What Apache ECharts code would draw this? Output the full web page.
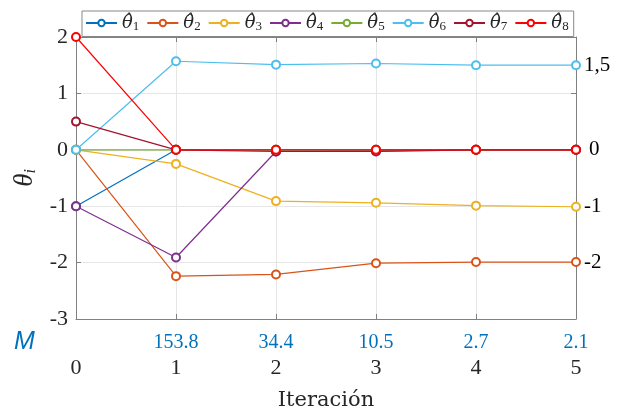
<!DOCTYPE html>
<html><head><meta charset="utf-8">
<script src="https://cdn.jsdelivr.net/npm/echarts@6/dist/echarts.min.js"></script>
<style>html,body{margin:0;padding:0;background:#fff}#c{width:622px;height:417px}</style>
</head><body><div id="c"></div>
<script>
var iterations = [0, 1, 2, 3, 4, 5];
var mLabels = ['', '153.8', '34.4', '10.5', '2.7', '2.1'];
var theta1 = [-1, 0, 0, 0, 0, 0];
var theta2 = [0, -2.24, -2.21, -2.01, -1.99, -1.99];
var theta3 = [0, -0.25, -0.91, -0.94, -0.99, -1.01];
var theta4 = [-1, -1.91, -0.03, -0.02, 0, 0];
var theta5 = [0, 0, 0, 0, 0, 0];
var theta6 = [0, 1.57, 1.51, 1.53, 1.50, 1.50];
var theta7 = [0.5, 0, -0.03, -0.03, 0, 0];
var theta8 = [2, 0, 0, 0, 0, 0];
var seriesNames = ['1','2','3','4','5','6','7','8'];
var colors = ['#0072BD','#D95319','#EDB120','#7E2F8E','#77AC30','#4DBEEE','#A2142F','#FF0000'];
var endLabels = ['', '-2', '-1', '', '', '1,5', '', '0'];

var allData = [theta1, theta2, theta3, theta4, theta5, theta6, theta7, theta8];
var serif = 'Liberation Serif';
var dserif = 'DejaVu Serif';

var series = allData.map(function (d, i) {
  return {
    name: seriesNames[i],
    type: 'line',
    data: d.map(function (v, j) { return [iterations[j], v]; }),
    symbol: 'emptyCircle',
    symbolSize: 8,
    clip: false,
    color: colors[i],
    lineStyle: { width: 1.2, color: colors[i] },
    itemStyle: { color: colors[i], borderColor: colors[i], borderWidth: 1 },
    emphasis: { disabled: true },
    endLabel: endLabels[i] ? {
      show: true,
      formatter: function () { return endLabels[i]; },
      distance: endLabels[i] === '0' ? 13 : 8,
      color: '#000',
      fontFamily: serif,
      fontSize: 21
    } : { show: false },
    z: 2 + i
  };
});

var chart = echarts.init(document.getElementById('c'), null, { renderer: 'canvas' });
chart.setOption({
  animation: false,
  backgroundColor: '#fff',
  grid: { left: 76, right: 46, top: 37, bottom: 98, containLabel: false },
  legend: {
    left: 82, top: 11,
    padding: [3, 5, 3, 3],
    borderColor: '#888', borderWidth: 1, backgroundColor: '#fff',
    itemWidth: 31, itemHeight: 8, itemGap: 7,
    data: seriesNames,
    formatter: function (n) { return '{a|θ\u0302}{s|' + n + '}'; },
    textStyle: {
      color: '#262626',
      rich: {
        a: { fontFamily: dserif, fontStyle: 'italic', fontSize: 18, color: '#262626' },
        s: { fontFamily: serif, fontSize: 13, color: '#262626', verticalAlign: 'bottom', padding: [8, 0, 0, 0] }
      }
    },
    z: 20
  },
  xAxis: [
    {
      type: 'value', min: 0, max: 5, interval: 1, position: 'bottom',
      axisLine: { show: true, onZero: false, lineStyle: { color: '#808080', width: 1 } },
      axisTick: { show: true, inside: true, length: 5, lineStyle: { color: '#808080' } },
      axisLabel: { margin: 38, fontFamily: serif, fontSize: 22, color: '#262626' },
      splitLine: { show: true, lineStyle: { color: '#e6e6e6', width: 1 } },
      name: 'Iteración', nameLocation: 'middle', nameGap: 71,
      nameTextStyle: { fontFamily: dserif, fontSize: 21, color: '#262626' }
    },
    {
      type: 'value', min: 0, max: 5, interval: 1, position: 'bottom',
      axisLine: { show: false }, axisTick: { show: false }, splitLine: { show: false },
      axisLabel: {
        margin: 14, fontFamily: serif, fontSize: 20, color: '#0072BD',
        formatter: function (v) { return mLabels[Math.round(v)] || ''; }
      }
    },
    {
      type: 'value', min: 0, max: 5, interval: 1, position: 'top',
      axisLine: { show: true, onZero: false, lineStyle: { color: '#808080', width: 1 } },
      axisTick: { show: true, inside: true, length: 5, lineStyle: { color: '#808080' } },
      axisLabel: { show: false }, splitLine: { show: false }
    }
  ],
  yAxis: [
    {
      type: 'value', min: -3, max: 2, interval: 1, position: 'left',
      axisLine: { show: true, onZero: false, lineStyle: { color: '#808080', width: 1 } },
      axisTick: { show: true, inside: true, length: 5, lineStyle: { color: '#808080' } },
      axisLabel: { margin: 8, fontFamily: serif, fontSize: 22, color: '#262626' },
      splitLine: { show: true, lineStyle: { color: '#e6e6e6', width: 1 } },
      name: '{t|θ}{i|i}', nameLocation: 'middle', nameGap: 30, nameRotate: 90,
      nameTextStyle: {
        rich: {
          t: { fontFamily: serif, fontStyle: 'italic', fontSize: 27, color: '#262626' },
          i: { fontFamily: serif, fontStyle: 'italic', fontSize: 16, color: '#262626', verticalAlign: 'bottom', padding: [10, 0, 0, 0] }
        }
      }
    },
    {
      type: 'value', min: -3, max: 2, interval: 1, position: 'right',
      axisLine: { show: true, onZero: false, lineStyle: { color: '#808080', width: 1 } },
      axisTick: { show: true, inside: true, length: 5, lineStyle: { color: '#808080' } },
      axisLabel: { show: false }, splitLine: { show: false }
    }
  ],
  graphic: [
    { type: 'text', left: 14, top: 330,
      style: { text: 'M', fontFamily: 'Liberation Sans', fontStyle: 'italic', fontSize: 25, fill: '#0072BD' } }
  ],
  series: series
});
</script></body></html>
